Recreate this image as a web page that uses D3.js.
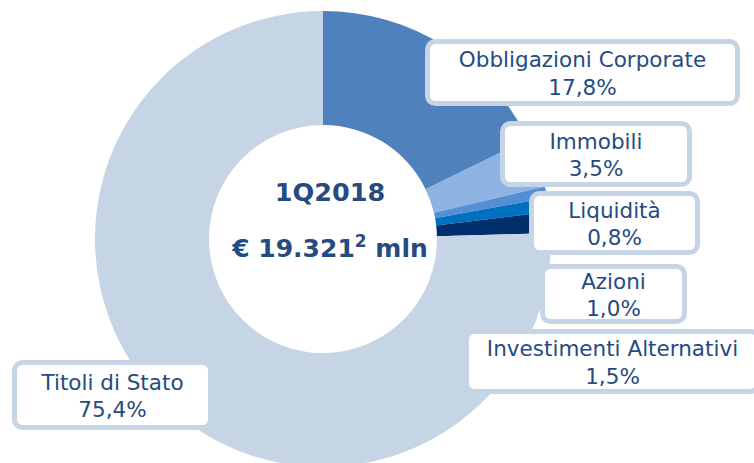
<!DOCTYPE html>
<html>
<head>
<meta charset="utf-8">
<script src="https://cdn.jsdelivr.net/npm/d3@7"></script>
<style>
  body { margin: 0; background: #fff; }
  svg { display: block; }
</style>
</head>
<body>
<script>
// slice data, clockwise from 12 o'clock
const categories = ["Obbligazioni Corporate", "Immobili", "Liquidità", "Azioni", "Investimenti Alternativi", "Titoli di Stato"];
const values = [17.8, 3.5, 0.8, 1.0, 1.5, 75.4];
const sliceColors = ["#4f81bd", "#8db3e2", "#558ed5", "#0070c0", "#002f6b", "#c5d5e5"];
const centerTitle = "1Q2018";
const centerAmount = ["€ 19.321", "2", " mln"];

// label boxes (layout only): x, y, w, h
const labelBoxes = [
  [427.5, 41.5, 310, 62],
  [502.5, 123.5, 187, 61],
  [531.5, 193.5, 166, 59],
  [542.5, 266.5, 142, 55],
  [466.5, 331.5, 292, 60],
  [14.5, 362.5, 196, 65]
];

const W = 754, H = 463;
const cx = 323, cy = 239;
const textColor = "#254b80";

const svg = d3.select("body").append("svg")
    .attr("width", W)
    .attr("height", H);

const pie = d3.pie().sort(null).value(d => d);
const arc = d3.arc().innerRadius(114).outerRadius(228);

const g = svg.append("g").attr("transform", `translate(${cx},${cy})`);
g.selectAll("path")
    .data(pie(values))
    .enter().append("path")
    .attr("d", arc)
    .attr("fill", (d, i) => sliceColors[i]);

// center text
const fmt = v => d3.format(".1f")(v).replace(".", ",") + "%";

g.append("text")
    .attr("x", 7).attr("y", -38)
    .attr("text-anchor", "middle")
    .style("font-family", "DejaVu Sans, sans-serif")
    .style("font-weight", "bold")
    .style("font-size", "25.5px")
    .attr("fill", textColor)
    .text(centerTitle);

const amt = g.append("text")
    .attr("x", 7).attr("y", 18)
    .attr("text-anchor", "middle")
    .style("font-family", "DejaVu Sans, sans-serif")
    .style("font-weight", "bold")
    .style("font-size", "25px")
    .attr("fill", textColor);
amt.append("tspan").text(centerAmount[0]);
amt.append("tspan").attr("dy", -10).style("font-size", "17px").text(centerAmount[1]);
amt.append("tspan").attr("dy", 10).text(centerAmount[2]);

// labels
const labels = svg.selectAll("g.lbl")
    .data(categories)
    .enter().append("g")
    .attr("class", "lbl");

labels.append("rect")
    .attr("x", (d, i) => labelBoxes[i][0])
    .attr("y", (d, i) => labelBoxes[i][1])
    .attr("width", (d, i) => labelBoxes[i][2])
    .attr("height", (d, i) => labelBoxes[i][3])
    .attr("rx", 8)
    .attr("fill", "#fff")
    .attr("stroke", "#c5d5e5")
    .attr("stroke-width", 5);

const lt = labels.append("text")
    .attr("text-anchor", "middle")
    .style("font-family", "DejaVu Sans, sans-serif")
    .style("font-size", "21.5px")
    .attr("fill", textColor);

lt.append("tspan")
    .attr("x", (d, i) => labelBoxes[i][0] + labelBoxes[i][2] / 2)
    .attr("y", (d, i) => labelBoxes[i][1] + labelBoxes[i][3] / 2 - 5.5)
    .text(d => d);
lt.append("tspan")
    .attr("x", (d, i) => labelBoxes[i][0] + labelBoxes[i][2] / 2)
    .attr("y", (d, i) => labelBoxes[i][1] + labelBoxes[i][3] / 2 + 22)
    .text((d, i) => fmt(values[i]));
</script>
</body>
</html>
